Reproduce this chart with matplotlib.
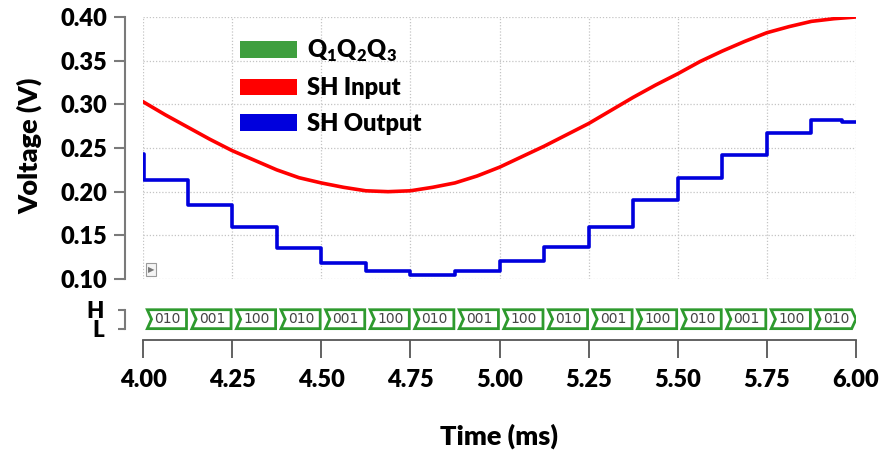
import matplotlib.pyplot as plt
from matplotlib.patches import Patch, Polygon
import numpy as np

plt.rcParams['font.family'] = ['Lato', 'DejaVu Sans']
plt.rcParams['font.weight'] = 'heavy'
plt.rcParams['mathtext.fontset'] = 'custom'
plt.rcParams['mathtext.rm'] = 'Lato:heavy'

red_t = [4.0, 4.0625, 4.125, 4.1875, 4.25, 4.3125, 4.375, 4.4375, 4.5, 4.5625,
         4.625, 4.6875, 4.75, 4.8125, 4.875, 4.9375, 5.0, 5.0625, 5.125, 5.1875,
         5.25, 5.3125, 5.375, 5.4375, 5.5, 5.5625, 5.625, 5.6875, 5.75, 5.8125,
         5.875, 5.9375, 6.0]
red_v = [0.303, 0.288, 0.274, 0.260, 0.247, 0.236, 0.225, 0.216, 0.210, 0.205,
         0.201, 0.200, 0.201, 0.205, 0.210, 0.218, 0.228, 0.240, 0.252, 0.265,
         0.278, 0.293, 0.308, 0.322, 0.335, 0.349, 0.361, 0.372, 0.382, 0.389,
         0.395, 0.398, 0.400]

# SH output staircase
blue_t = [4.0, 4.004, 4.125, 4.25, 4.375, 4.5, 4.625, 4.75, 4.875, 5.0, 5.125,
          5.25, 5.375, 5.5, 5.625, 5.75, 5.875, 5.96, 6.0]
blue_v = [0.243, 0.213, 0.185, 0.159, 0.136, 0.118, 0.109, 0.105, 0.109, 0.121,
          0.137, 0.160, 0.190, 0.216, 0.242, 0.267, 0.282, 0.280, 0.280]

# Q1Q2Q3 bus states
bus_start = 4.0
bus_step = 0.125
bus_codes = ['010', '001', '100', '010', '001', '100', '010', '001',
             '100', '010', '001', '100', '010', '001', '100', '010']

x_ticks = [4.00, 4.25, 4.50, 4.75, 5.00, 5.25, 5.50, 5.75, 6.00]
y_ticks = [0.10, 0.15, 0.20, 0.25, 0.30, 0.35, 0.40]

W, H = 885, 455
fig = plt.figure(figsize=(W / 100, H / 100), dpi=100)
ax = fig.add_axes([143 / W, 1 - 279 / H, 713 / W, 262 / H])
bx = fig.add_axes([143 / W, 1 - 340 / H, 713 / W, 35 / H], sharex=ax)

spine_col = '#7a7a7a'
grid_kw = dict(color='#c4c4c4', linestyle=(0, (1, 1.5)), linewidth=0.9)

# ---- analog plot ----
ax.plot(red_t, red_v, color='#ff0000', linewidth=2.6, zorder=3)
ax.plot(blue_t, blue_v, color='#0000dd', linewidth=2.6, drawstyle='steps-post', zorder=3)
ax.set_xlim(4.0, 6.0)
ax.set_ylim(0.10, 0.40)
ax.set_xticks(x_ticks)
ax.set_yticks(y_ticks)
ax.set_yticklabels([f"{v:.2f}" for v in y_ticks])
ax.grid(True, **grid_kw)
ax.set_axisbelow(True)
for s in ['top', 'right', 'bottom']:
    ax.spines[s].set_visible(False)
ax.spines['left'].set_position(('outward', 13))
ax.spines['left'].set_color(spine_col)
ax.spines['left'].set_linewidth(1.5)
ax.tick_params(axis='y', length=8, width=1.5, color=spine_col, labelsize=17, pad=5)
ax.tick_params(axis='x', length=0, labelbottom=False)

# little play icon at bottom-left
ax.annotate('\u25B6', xy=(0.011, 0.035), xycoords='axes fraction', fontsize=6,
            color='#777777', ha='center', va='center', fontfamily='DejaVu Sans',
            fontweight='normal',
            bbox=dict(boxstyle='square,pad=0.25', fc='#f4f4f4', ec='#9a9a9a', lw=0.8))

handles = [Patch(facecolor='#3f9f3f', edgecolor='none'),
           Patch(facecolor='#ff0000', edgecolor='none'),
           Patch(facecolor='#0000dd', edgecolor='none')]
labels = [r'Q$_{\mathregular{1}}$Q$_{\mathregular{2}}$Q$_{\mathregular{3}}$',
          'SH Input', 'SH Output']
ax.legend(handles, labels, loc='upper left', bbox_to_anchor=(0.136, 0.922),
          frameon=False, fontsize=17, handlelength=2.4, handleheight=0.72,
          handletextpad=0.42, labelspacing=0.58, borderpad=0, borderaxespad=0)

# ---- digital bus ----
bx.set_ylim(-0.6, 1.25)
d = 0.012
for i, code in enumerate(bus_codes):
    t0 = bus_start + i * bus_step
    t1 = t0 + bus_step
    if i == len(bus_codes) - 1:
        pts = [(t0 + d, 1), (t1 - d, 1), (t1, 0.5), (t1 - d, 0), (t0 + d, 0), (t0 + 2 * d, 0.5)]
    else:
        pts = [(t0 + d, 1), (t1 - 0.003, 1), (t1 - 0.003, 0), (t0 + d, 0), (t0 + 2 * d, 0.5)]
    bx.add_patch(Polygon(pts, closed=True, facecolor='white', edgecolor='#2e9a2e',
                         linewidth=2.0, zorder=2))
    bx.text((t0 + t1) / 2 + 0.006, 0.5, code, ha='center', va='center', fontsize=10,
            fontweight='normal', color='#444444', fontfamily='DejaVu Sans')

bx.set_yticks([0, 1])
bx.set_yticklabels(['L', 'H'])
for s in ['top', 'right']:
    bx.spines[s].set_visible(False)
bx.spines['left'].set_position(('outward', 13))
bx.spines['left'].set_bounds(0, 1)
bx.spines['left'].set_color(spine_col)
bx.spines['left'].set_linewidth(1.5)
bx.spines['bottom'].set_color('#555555')
bx.spines['bottom'].set_linewidth(1.3)
bx.tick_params(axis='y', length=5, width=1.5, color=spine_col, labelsize=16, pad=10)
bx.set_xticks(x_ticks)
bx.set_xticklabels([f"{v:.2f}" for v in x_ticks])
bx.tick_params(axis='x', length=13, width=1.3, color='#555555', labelsize=17, pad=8)

fig.text(30 / W, 1 - 146 / H, 'Voltage (V)', rotation=90, ha='center', va='center',
         fontsize=19.5)
fig.text(499 / W, 1 - 436 / H, 'Time (ms)', ha='center', va='center', fontsize=19.5)

fig.savefig('out.png', dpi=100, facecolor='white')
